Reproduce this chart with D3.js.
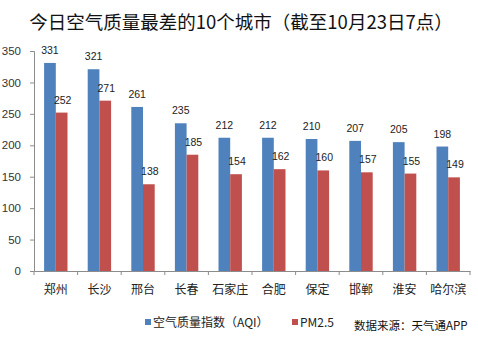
<!DOCTYPE html>
<html>
<head>
<meta charset="utf-8">
<script src="https://cdn.jsdelivr.net/npm/d3@7"></script>
<style>
  html, body { margin: 0; padding: 0; background: #fff; }
  svg { display: block; }
</style>
</head>
<body>
<svg id="chart" width="478" height="345"></svg>
<script>
const cities = ["郑州", "长沙", "邢台", "长春", "石家庄", "合肥", "保定", "邯郸", "淮安", "哈尔滨"];
const aqiValues = [331, 321, 261, 235, 212, 212, 210, 207, 205, 198];
const pm25Values = [252, 271, 138, 185, 154, 162, 160, 157, 155, 149];
const yTicks = [0, 50, 100, 150, 200, 250, 300, 350];
const seriesNames = ["空气质量指数（AQI）", "PM2.5"];
const seriesColors = ["#4F81BD", "#C0504D"];

const titleText = "今日空气质量最差的10个城市（截至10月23日7点）";
const sourceText = "数据来源：天气通APP";

const svg = d3.select("#chart");
const cjk = "'Noto Sans CJK SC', 'Noto Sans', sans-serif";
const latin = "'Liberation Sans', Arial, sans-serif";

const plot = { left: 34, right: 470, top: 51, bottom: 271 };

const x = d3.scaleBand().domain(cities).range([plot.left, plot.right]).paddingInner(0).paddingOuter(0);
const sub = d3.scaleBand().domain([0, 1]).range([0, 23.4]);
const y = d3.scaleLinear().domain([0, 350]).range([plot.bottom, plot.top]);

// Title
svg.append("text")
  .attr("x", 241).attr("y", 29)
  .attr("text-anchor", "middle")
  .attr("font-family", cjk)
  .attr("font-size", 18.5)
  .attr("fill", "#111")
  .text(titleText);

// Y axis
const yAxis = d3.axisLeft(y).tickValues(yTicks).tickSize(4).tickPadding(9);
const gy = svg.append("g").attr("transform", `translate(${plot.left},0)`).call(yAxis);
gy.select(".domain").attr("stroke", "#8c8c8c");
gy.selectAll(".tick line").attr("stroke", "#8c8c8c");
gy.selectAll(".tick text")
  .attr("font-family", latin).attr("font-size", 11.5).attr("fill", "#333");

// X axis: category labels with boundary ticks
const xAxis = d3.axisBottom(x).tickSize(0).tickPadding(14);
const gx = svg.append("g").attr("transform", `translate(0,${plot.bottom})`).call(xAxis);
gx.select(".domain").attr("stroke", "#8c8c8c");
gx.selectAll(".tick text")
  .attr("font-family", cjk).attr("font-size", 12).attr("fill", "#222");
const bounds = cities.map(c => x(c)).concat([x(cities[cities.length - 1]) + x.bandwidth()]);
gx.selectAll("line.bound").data(bounds).enter().append("line")
  .attr("class", "bound")
  .attr("x1", d => d).attr("x2", d => d)
  .attr("y1", 0).attr("y2", 4)
  .attr("stroke", "#8c8c8c");

// Bars
const rows = cities.map((c, i) => ({ city: c, vals: [aqiValues[i], pm25Values[i]] }));
const groups = svg.append("g").selectAll("g").data(rows).enter().append("g")
  .attr("transform", d => `translate(${x(d.city) + (x.bandwidth() - 23.4) / 2},0)`);

groups.selectAll("rect").data(d => d.vals).enter().append("rect")
  .attr("x", (d, i) => sub(i))
  .attr("width", sub.bandwidth())
  .attr("y", d => y(d))
  .attr("height", d => plot.bottom - y(d))
  .attr("fill", (d, i) => seriesColors[i]);

// Value labels
groups.selectAll("text").data(d => d.vals).enter().append("text")
  .attr("x", (d, i) => sub(i) + sub.bandwidth() / 2 + (i === 1 ? 1 : 0))
  .attr("y", d => y(d) - 9)
  .attr("text-anchor", "middle")
  .attr("font-family", latin)
  .attr("font-size", 10.5)
  .attr("fill", "#222")
  .text(d => d);

// Legend
const legend = svg.append("g");
const legendItems = [
  { x: 145, name: seriesNames[0], color: seriesColors[0] },
  { x: 292, name: seriesNames[1], color: seriesColors[1] }
];
legendItems.forEach(it => {
  legend.append("rect").attr("x", it.x).attr("y", 319).attr("width", 6).attr("height", 6).attr("fill", it.color);
  legend.append("text").attr("x", it.x + 8).attr("y", 327)
    .attr("font-family", cjk).attr("font-size", 12).attr("fill", "#222")
    .text(it.name);
});

svg.append("text")
  .attr("x", 354).attr("y", 330)
  .attr("font-family", cjk).attr("font-size", 11.5).attr("fill", "#111")
  .text(sourceText);
</script>
</body>
</html>
